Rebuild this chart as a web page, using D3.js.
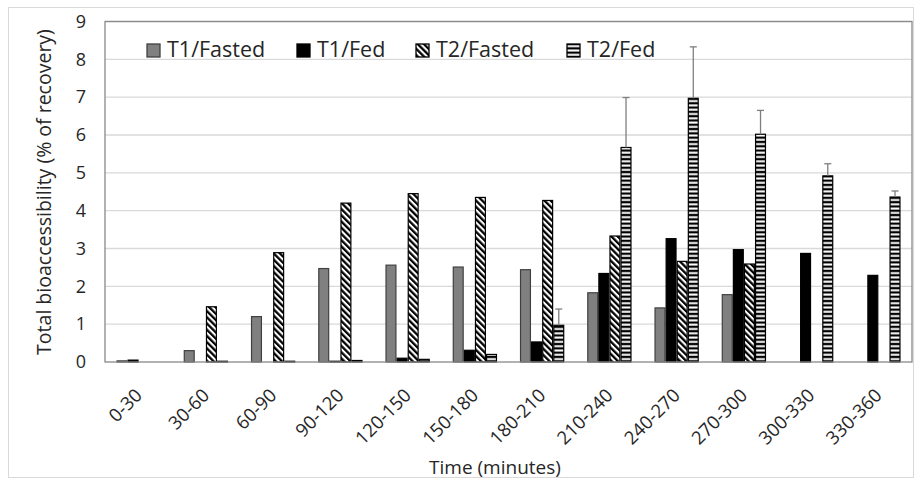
<!DOCTYPE html>
<html>
<head>
<meta charset="utf-8">
<script src="https://cdn.jsdelivr.net/npm/d3@7"></script>
<style>
  body { margin: 0; background: #fff; }
  text { font-family: "Open Sans", "Liberation Sans", sans-serif; fill: #262626; }
</style>
</head>
<body>
<div id="chart"></div>
<script>
// Data
const categories = ["0-30", "30-60", "60-90", "90-120", "120-150", "150-180",
  "180-210", "210-240", "240-270", "270-300", "300-330", "330-360"];
const seriesNames = ["T1/Fasted", "T1/Fed", "T2/Fasted", "T2/Fed"];
const t1Fasted = [0.03, 0.3, 1.2, 2.47, 2.56, 2.51, 2.44, 1.83, 1.43, 1.78, 0, 0];
const t1Fed    = [0.05, 0, 0, 0.02, 0.1, 0.31, 0.53, 2.34, 3.26, 2.97, 2.87, 2.29];
const t2Fasted = [0, 1.46, 2.89, 4.2, 4.45, 4.35, 4.27, 3.33, 2.66, 2.59, 0, 0];
const t2Fed    = [0, 0.02, 0.02, 0.04, 0.07, 0.2, 0.97, 5.67, 6.97, 6.02, 4.92, 4.36];
const t2FedErr = [0, 0, 0, 0, 0, 0, 0.43, 1.32, 1.36, 0.63, 0.32, 0.16];
const yTicks = [0, 1, 2, 3, 4, 5, 6, 7, 8, 9];

const width = 922, height = 484;
const plot = { left: 105, right: 912, top: 21.5, bottom: 362 };

const svg = d3.select("#chart").append("svg")
  .attr("width", width).attr("height", height);

// patterns
const defs = svg.append("defs");
const diag = defs.append("pattern").attr("id", "diag")
  .attr("patternUnits", "userSpaceOnUse")
  .attr("width", 4.4).attr("height", 4.4)
  .attr("patternTransform", "rotate(-45)");
diag.append("rect").attr("width", 4.4).attr("height", 4.4).attr("fill", "#fff");
diag.append("rect").attr("width", 2.3).attr("height", 4.4).attr("fill", "#000");

const horiz = defs.append("pattern").attr("id", "horiz")
  .attr("patternUnits", "userSpaceOnUse")
  .attr("width", 8).attr("height", 4.3);
horiz.append("rect").attr("width", 8).attr("height", 4.3).attr("fill", "#000");
horiz.append("rect").attr("y", 1.2).attr("width", 8).attr("height", 2).attr("fill", "#fff");

const fills = ["#808080", "#000", "url(#diag)", "url(#horiz)"];
const strokes = ["#404040", "#000", "#000", "#000"];

// outer frame
svg.append("rect")
  .attr("x", 8.5).attr("y", 7.5).attr("width", 905).attr("height", 470)
  .attr("fill", "none").attr("stroke", "#d9d9d9");

// scales
const x = d3.scaleBand().domain(categories)
  .range([plot.left, plot.right]).paddingInner(0.34).paddingOuter(0.17);
const xs = d3.scaleBand().domain(seriesNames).range([0, x.bandwidth()]);
const y = d3.scaleLinear().domain([0, 9]).range([plot.bottom, plot.top]);

// gridlines
svg.append("g").selectAll("line").data(yTicks.slice(1)).join("line")
  .attr("x1", plot.left).attr("x2", plot.right)
  .attr("y1", d => y(d)).attr("y2", d => y(d))
  .attr("stroke", "#d9d9d9").attr("stroke-width", 1.3);

// bars
const series = [t1Fasted, t1Fed, t2Fasted, t2Fed];
const rows = [];
series.forEach((vals, si) => vals.forEach((v, ci) => {
  if (v > 0) rows.push({ s: seriesNames[si], si, c: categories[ci], v });
}));

svg.append("g").selectAll("rect").data(rows).join("rect")
  .attr("x", d => x(d.c) + xs(d.s) + 0.6)
  .attr("y", d => y(d.v))
  .attr("width", xs.bandwidth() - 1.2)
  .attr("height", d => y(0) - y(d.v))
  .attr("fill", d => fills[d.si])
  .attr("stroke", d => strokes[d.si])
  .attr("stroke-width", 1.2);

// error bars (T2/Fed, upper only)
const errs = categories.map((c, i) => ({ c, v: t2Fed[i], e: t2FedErr[i] })).filter(d => d.e > 0);
const ex = d => x(d.c) + xs("T2/Fed") + xs.bandwidth() / 2;
const eg = svg.append("g").attr("stroke", "#7f7f7f").attr("stroke-width", 1.3);
eg.selectAll(".ev").data(errs).join("line").attr("class", "ev")
  .attr("x1", ex).attr("x2", ex)
  .attr("y1", d => y(d.v)).attr("y2", d => y(d.v + d.e));
eg.selectAll(".ec").data(errs).join("line").attr("class", "ec")
  .attr("x1", d => ex(d) - 3.5).attr("x2", d => ex(d) + 3.5)
  .attr("y1", d => y(d.v + d.e)).attr("y2", d => y(d.v + d.e));

// plot border
svg.append("rect")
  .attr("x", plot.left).attr("y", plot.top)
  .attr("width", plot.right - plot.left).attr("height", plot.bottom - plot.top)
  .attr("fill", "none").attr("stroke", "#898989").attr("stroke-width", 1.3);

// y axis
const yAxis = svg.append("g")
  .attr("transform", `translate(${plot.left},0)`)
  .call(d3.axisLeft(y).tickValues(yTicks).tickSize(0).tickPadding(19));
yAxis.select(".domain").remove();
yAxis.selectAll("text")
  .style("font-size", "18px")
  .style("font-family", "'Open Sans', sans-serif")
  .attr("fill", "#262626");

// x axis
const xAxis = svg.append("g")
  .attr("transform", `translate(0,${plot.bottom})`)
  .call(d3.axisBottom(x).tickSize(0).tickPadding(0));
xAxis.select(".domain").remove();
xAxis.selectAll("text")
  .style("font-size", "18.5px")
  .style("font-family", "'Open Sans', sans-serif")
  .attr("fill", "#262626")
  .attr("text-anchor", "end")
  .attr("dy", "0.35em")
  .attr("transform", "translate(0,30) rotate(-45)");

// axis titles
svg.append("text")
  .attr("x", 495).attr("y", 474)
  .attr("text-anchor", "middle")
  .style("font-size", "19px")
  .text("Time (minutes)");

svg.append("text")
  .attr("transform", "translate(51,192) rotate(-90)")
  .attr("text-anchor", "middle")
  .style("font-size", "19.5px")
  .text("Total bioaccessibility (% of recovery)");

// legend
const legendX = [147, 297, 416, 567];
const lg = svg.append("g").selectAll("g").data(seriesNames).join("g")
  .attr("transform", (d, i) => `translate(${legendX[i]},44)`);
lg.append("rect")
  .attr("width", 13).attr("height", 13)
  .attr("fill", (d, i) => fills[i])
  .attr("stroke", (d, i) => strokes[i])
  .attr("stroke-width", 1.3);
lg.append("text")
  .attr("x", 20).attr("y", 13)
  .style("font-size", "21.5px")
  .text(d => d);
</script>
</body>
</html>
